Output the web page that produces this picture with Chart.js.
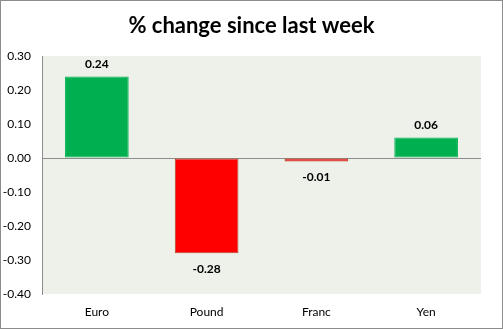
<!DOCTYPE html>
<html>
<head>
<meta charset="utf-8">
<script src="https://cdn.jsdelivr.net/npm/chart.js@4"></script>
<style>
    body { margin: 0; background: #fff; }
    #wrap { width: 501px; height: 327px; border: 1px solid #8c8c8c; position: relative; }
</style>
</head>
<body>
<div id="wrap"><canvas id="chart" width="501" height="327"></canvas></div>
<script>
const categories = ['Euro', 'Pound', 'Franc', 'Yen'];
const changes = [0.24, -0.28, -0.01, 0.06];
const yTicks = [0.30, 0.20, 0.10, 0.00, -0.10, -0.20, -0.30, -0.40];
const titleText = '% change since last week';

const fontFamily = 'Lato, "Open Sans", sans-serif';

const plotBackground = {
    id: 'plotBackground',
    beforeDraw(chart) {
        const { ctx, chartArea } = chart;
        ctx.save();
        ctx.fillStyle = '#eef1e9';
        ctx.fillRect(chartArea.left, chartArea.top, chartArea.right - chartArea.left, chartArea.bottom - chartArea.top);
        ctx.restore();
    },
};

const titleAndLabels = {
    id: 'titleAndLabels',
    afterDatasetsDraw(chart) {
        const { ctx } = chart;
        ctx.save();
        ctx.fillStyle = '#000';
        ctx.textAlign = 'center';
        ctx.textBaseline = 'middle';
        ctx.font = 'bold 22px ' + fontFamily;
        ctx.fillText(titleText, chart.width / 2, 25);

        ctx.font = 'bold 12px ' + fontFamily;
        const meta = chart.getDatasetMeta(0);
        meta.data.forEach((bar, i) => {
            const v = changes[i];
            const label = v.toFixed(2);
            if (v >= 0) {
                ctx.fillText(label, bar.x, bar.y - 12);
            } else {
                ctx.fillText(label, bar.x, bar.y + 16);
            }
        });
        ctx.restore();
    },
};

new Chart(document.getElementById('chart').getContext('2d'), {
    type: 'bar',
    data: {
        labels: categories,
        datasets: [{
            data: changes,
            backgroundColor: changes.map(v => v >= 0 ? '#00b050' : '#ff0000'),
            borderColor: changes.map(v => v >= 0 ? '#00b050' : '#b0452f'),
            borderWidth: 1,
            borderSkipped: false,
            categoryPercentage: 1,
            barPercentage: 0.58,
        }],
    },
    options: {
        responsive: false,
        animation: false,
        layout: { padding: { top: 55, right: 21, left: 0, bottom: 0 } },
        plugins: {
            legend: { display: false },
            title: { display: false },
            tooltip: { enabled: false },
        },
        scales: {
            x: {
                grid: { display: false, drawTicks: false },
                border: { display: false },
                ticks: {
                    color: '#000',
                    font: { family: fontFamily, size: 12 },
                    padding: 11,
                },
                afterFit(scale) { scale.height = 34; },
            },
            y: {
                z: 1,
                min: -0.4,
                max: 0.3,
                afterBuildTicks(scale) {
                    scale.ticks = yTicks.map(v => ({ value: v }));
                },
                grid: {
                    drawTicks: false,
                    color: ctx => (ctx.tick && Math.abs(ctx.tick.value) < 1e-9) ? '#8c8c8c' : 'rgba(0,0,0,0)',
                    lineWidth: 1,
                },
                border: { display: true, color: '#8c8c8c', width: 1 },
                ticks: {
                    color: '#000',
                    font: { family: fontFamily, size: 12 },
                    padding: 11,
                    callback: v => v.toFixed(2),
                },
                afterFit(scale) { scale.width = 41; },
            },
        },
    },
    plugins: [plotBackground, titleAndLabels],
});
</script>
</body>
</html>
